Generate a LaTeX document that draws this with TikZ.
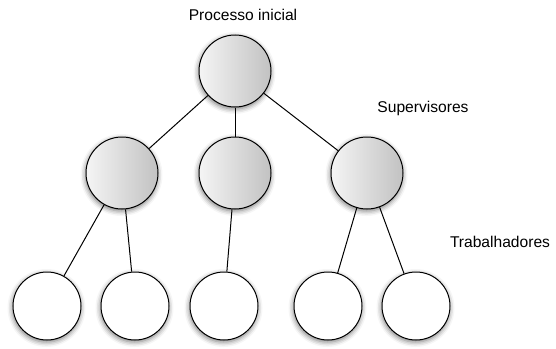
\documentclass[tikz,border=0pt]{standalone}
\usepackage{fontspec}
\setmainfont{Liberation Sans}
\usetikzlibrary{shadows.blur}

\tikzset{
	proc/.style={circle, draw, line width=1pt, inner sep=0pt, minimum size=72pt,
		blur shadow={shadow xshift=-0.5pt, shadow yshift=-2pt, shadow blur radius=5pt, shadow opacity=55}},
	chefe/.style={proc, left color=black!4, right color=black!24},
	operario/.style={proc, fill=white, minimum size=68pt},
	rotulo/.style={font=\fontsize{15.6}{18}\selectfont, inner sep=0pt}
}

\begin{document}
\begin{tikzpicture}[x=1pt, y=-1pt]
	\useasboundingbox (0,0) rectangle (556,348);

	% raiz e supervisores
	\node[chefe] (raiz) at (235,71) {};
	\node[chefe] (s1) at (122,173) {};
	\node[chefe] (s2) at (235,173) {};
	\node[chefe] (s3) at (367,173) {};

	% trabalhadores
	\node[operario] (t1) at (47,306) {};
	\node[operario] (t2) at (135,306) {};
	\node[operario] (t3) at (224,306) {};
	\node[operario] (t4) at (328,306) {};
	\node[operario] (t5) at (416,306) {};

	% ligacoes
	\begin{scope}[line width=1pt]
		\foreach \s in {s1,s2,s3}
		{
			\draw (raiz) -- (\s);
		}
		\draw (s1) -- (t1);
		\draw (s1) -- (t2);
		\draw (s2) -- (t3);
		\draw (s3) -- (t4);
		\draw (s3) -- (t5);
	\end{scope}

	% textos
	\node[rotulo] (lraiz) at (243,15) {Processo inicial};
	\node[rotulo] (lsup) at (423,108) {Supervisores};
	\node[rotulo] (ltrab) at (500,242) {Trabalhadores};
\end{tikzpicture}
\end{document}
